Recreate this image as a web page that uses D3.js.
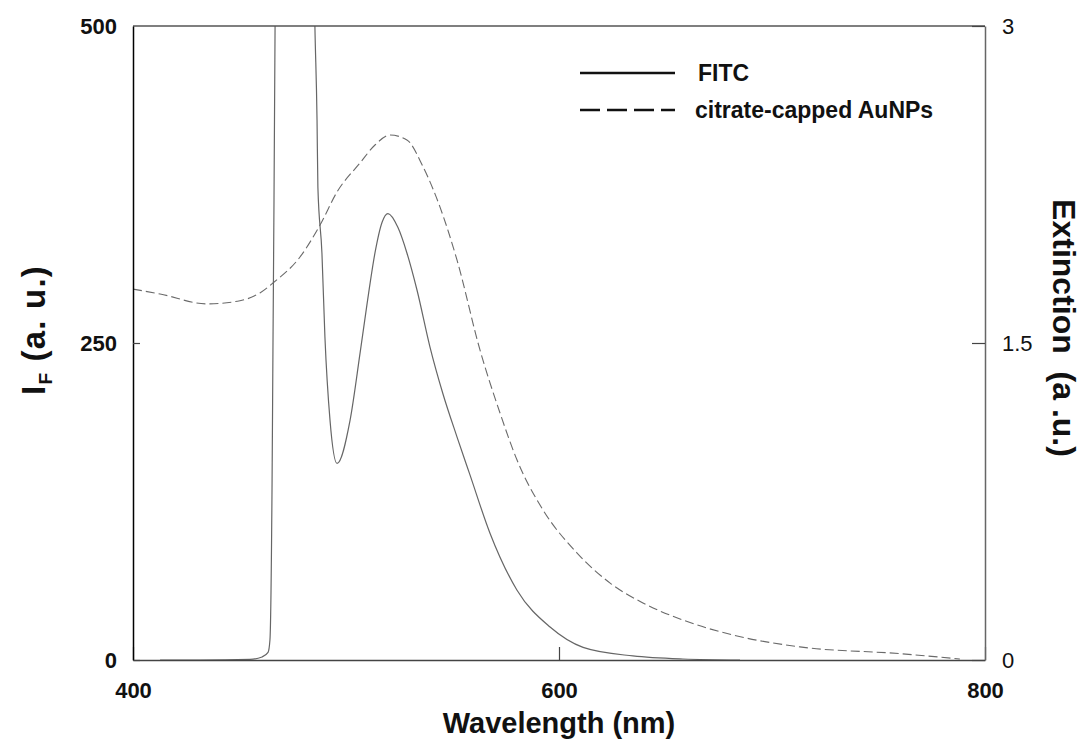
<!DOCTYPE html>
<html>
<head>
<meta charset="utf-8">
<script src="https://cdn.jsdelivr.net/npm/d3@7"></script>
<style>
  body { margin: 0; background: #fff; }
  svg text { font-family: "Liberation Sans", Arial, sans-serif; }
</style>
</head>
<body>
<div id="chart"></div>
<script>
// FITC fluorescence (left axis)
const fitcWl = [412.7, 431.5, 454.9, 460.6, 463.4, 464.3, 465.3, 465.7, 466.2, 466.7, 468, 471, 476, 481, 484, 485.4, 486.4, 486.8, 488.7, 490.1, 492.5, 495.8, 501.9, 506.6, 509.9, 513.6, 516.9, 519.7, 524.4, 528.6, 533.3, 539.4, 545.5, 552.1, 558.2, 567.6, 580.3, 595.8, 611.3, 634.7, 658.2, 685];
const fitcI = [0, 0, 0.5, 2.4, 6, 16, 142, 244, 363, 500, 720, 1000, 1100, 900, 650, 500, 426, 373, 321, 255, 189, 155, 189, 242, 281, 321, 345, 352, 341, 321, 292, 247, 210, 176, 146, 100, 55, 26, 10, 3.2, 0.8, 0];

// citrate-capped AuNPs extinction (right axis)
const aunpWl = [400, 412.7, 434.7, 450.2, 459.6, 465.7, 478.4, 487.8, 495.8, 506.6, 513.6, 520.7, 528.6, 536.2, 544.1, 552.1, 562.9, 572.3, 580.3, 592.5, 608.5, 624, 639.4, 658.2, 681.7, 713.1, 760.1, 788.2];
const aunpE = [1.755, 1.732, 1.685, 1.70, 1.737, 1.784, 1.907, 2.058, 2.215, 2.352, 2.437, 2.484, 2.461, 2.333, 2.144, 1.893, 1.467, 1.169, 0.946, 0.710, 0.506, 0.364, 0.270, 0.189, 0.118, 0.062, 0.030, 0.005];

const xTicks = [400, 600, 800];
const yLeftTicks = [0, 250, 500];
const yRightTicks = [0, 1.5, 3];
const legendLabels = ["FITC", "citrate-capped AuNPs"];

const W = 1081, H = 751;
const m = {top: 26, right: 96, bottom: 91, left: 133};

const svg = d3.select("#chart").append("svg")
  .attr("width", W).attr("height", H);

const x = d3.scaleLinear().domain([400, 800]).range([m.left, W - m.right]);
const yL = d3.scaleLinear().domain([0, 500]).range([H - m.bottom, m.top]);
const yR = d3.scaleLinear().domain([0, 3]).range([H - m.bottom, m.top]);

svg.append("clipPath").attr("id", "plotclip")
  .append("rect")
  .attr("x", m.left).attr("y", m.top)
  .attr("width", W - m.left - m.right).attr("height", H - m.top - m.bottom);

const fitc = fitcWl.map((w, i) => [w, fitcI[i]]);
const aunp = aunpWl.map((w, i) => [w, aunpE[i]]);

const plot = svg.append("g").attr("clip-path", "url(#plotclip)");

plot.append("path")
  .datum(aunp)
  .attr("fill", "none")
  .attr("stroke", "#6a6a6a")
  .attr("stroke-width", 1.1)
  .attr("stroke-dasharray", "9,4")
  .attr("d", d3.line().x(d => x(d[0])).y(d => yR(d[1])).curve(d3.curveMonotoneX));

plot.append("path")
  .datum(fitc)
  .attr("fill", "none")
  .attr("stroke", "#666")
  .attr("stroke-width", 1.2)
  .attr("d", d3.line().x(d => x(d[0])).y(d => yL(d[1])).curve(d3.curveMonotoneX));

// frame
svg.append("line").attr("x1", m.left).attr("x2", W - m.right)
  .attr("y1", m.top).attr("y2", m.top).attr("stroke", "#555").attr("stroke-width", 1.5);

const gx = svg.append("g").attr("transform", `translate(0,${H - m.bottom})`)
  .call(d3.axisBottom(x).tickValues(xTicks).tickSizeInner(-13).tickSizeOuter(0).tickPadding(22).tickFormat(d3.format("d")));
const gl = svg.append("g").attr("transform", `translate(${m.left},0)`)
  .call(d3.axisLeft(yL).tickValues(yLeftTicks).tickSizeInner(-7).tickSizeOuter(0).tickPadding(16).tickFormat(d3.format("d")));
const gr = svg.append("g").attr("transform", `translate(${W - m.right},0)`)
  .call(d3.axisRight(yR).tickValues(yRightTicks).tickSizeInner(-13).tickSizeOuter(0).tickPadding(17).tickFormat(d => d));

gx.select(".domain").attr("stroke", "#444").attr("stroke-width", 1.5);
gl.select(".domain").attr("stroke", "#000").attr("stroke-width", 1.5);
gr.select(".domain").attr("stroke", "#666").attr("stroke-width", 1.5);
[gx, gl, gr].forEach(g => g.selectAll(".tick line").attr("stroke", "#444").attr("stroke-width", 1.2));
gx.selectAll(".tick text").attr("font-size", 22).attr("font-weight", "bold").attr("fill", "#111");
gl.selectAll(".tick text").attr("font-size", 22).attr("font-weight", "bold").attr("fill", "#111");
gr.selectAll(".tick text").attr("font-size", 22).attr("fill", "#111");
gl.selectAll(".tick").filter(d => d === 500).select("line").remove();

// axis titles
svg.append("text")
  .attr("x", x(600)).attr("y", 733)
  .attr("text-anchor", "middle").attr("font-size", 29).attr("font-weight", "bold").attr("fill", "#111")
  .text("Wavelength (nm)");

const lt = svg.append("text")
  .attr("transform", `translate(45,330) rotate(-90)`)
  .attr("text-anchor", "middle").attr("font-size", 33).attr("font-weight", "bold").attr("fill", "#111")
  .attr("letter-spacing", 1.2);
lt.append("tspan").text("I");
lt.append("tspan").attr("font-size", 19).attr("dy", 7).text("F");
lt.append("tspan").attr("dy", -7).text(" (a. u.)");

svg.append("text")
  .attr("transform", `translate(1053,328) rotate(90)`)
  .attr("text-anchor", "middle").attr("font-size", 32).attr("font-weight", "bold").attr("fill", "#111")
  .attr("xml:space", "preserve")
  .text("Extinction  (a .u.)");

// legend
const legend = svg.append("g");
legendLabels.forEach((lab, i) => {
  const ly = 73 + i * 37;
  legend.append("line")
    .attr("x1", 580).attr("x2", 675).attr("y1", ly).attr("y2", ly)
    .attr("stroke", "#111").attr("stroke-width", 2.4)
    .attr("stroke-dasharray", i === 0 ? null : "20,7");
  legend.append("text")
    .attr("x", i === 0 ? 698 : 695).attr("y", ly + 8)
    .attr("font-size", 23).attr("font-weight", "bold").attr("fill", "#111")
    .text(lab);
});
</script>
</body>
</html>
